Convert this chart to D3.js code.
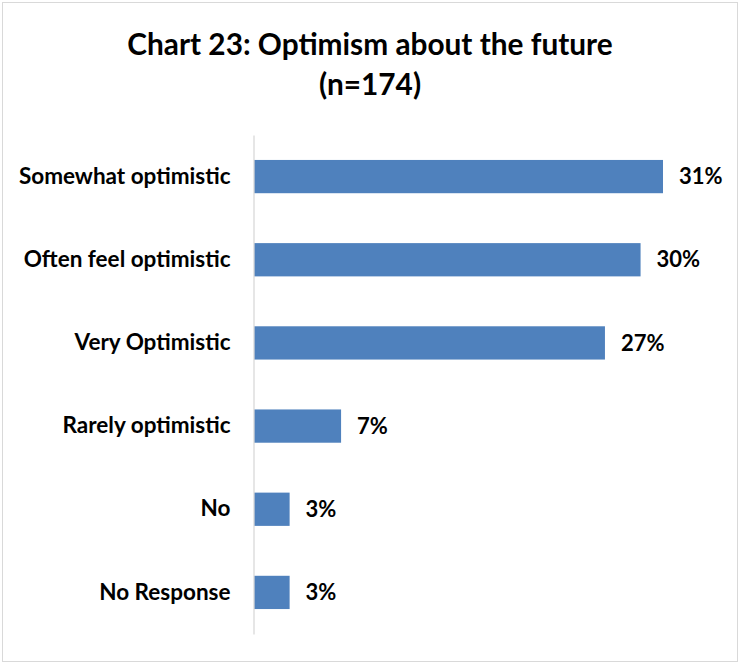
<!DOCTYPE html>
<html>
<head>
<meta charset="utf-8">
<script src="https://cdn.jsdelivr.net/npm/d3@7"></script>
<style>
  body { margin: 0; background: #fff; }
  text { font-family: Lato, "Open Sans", sans-serif; font-weight: bold; fill: #000; }
</style>
</head>
<body>
<div id="chart"></div>
<script>
var categories = ["Somewhat optimistic", "Often feel optimistic", "Very Optimistic",
                  "Rarely optimistic", "No", "No Response"];
var values = [31.0, 29.3, 26.6, 6.6, 2.7, 2.7];
var valueLabels = ["31%", "30%", "27%", "7%", "3%", "3%"];
var titleLines = ["Chart 23: Optimism about the future", "(n=174)"];

var wid = 740,
	heig = 664;

var svg = d3.select("#chart").append("svg")
		.attr("width", wid)
		.attr("height", heig);

// outer frame
svg.append("rect")
	.attr("x", 2.5)
	.attr("y", 2.5)
	.attr("width", 735)
	.attr("height", 659)
	.attr("fill", "#fff")
	.attr("stroke", "#d9d9d9")
	.attr("stroke-width", 1);

// title
svg.selectAll("text.title")
	.data(titleLines)
	.enter().append("text")
	.attr("class", "title")
	.attr("x", 370)
	.attr("y", function(d, i) { return 55 + i * 40; })
	.attr("text-anchor", "middle")
	.style("font-size", "29.8px")
	.text(function(d) { return d; });

var x = d3.scaleLinear()
		.domain([0, 31])
		.range([254, 663]);

var y = d3.scaleBand()
		.domain(categories)
		.range([135, 634])
		.paddingInner(0.6)
		.paddingOuter(0.3);

// bars
svg.selectAll("rect.bar")
	.data(values)
	.enter().append("rect")
	.attr("class", "bar")
	.attr("x", x(0))
	.attr("y", function(d, i) { return y(categories[i]); })
	.attr("width", function(d) { return x(d) - x(0); })
	.attr("height", y.bandwidth())
	.attr("fill", "#4f81bd");

// category axis (line only, no ticks)
var yAxis = svg.append("g")
		.attr("transform", "translate(253.5,0)")
		.call(d3.axisLeft(y).tickSize(0).tickPadding(23));

yAxis.select(".domain")
	.attr("stroke", "#d9d9d9")
	.attr("stroke-width", 1.3);

yAxis.selectAll("text")
	.style("font-size", "22.5px")
	.style("font-family", "Lato, 'Open Sans', sans-serif")
	.style("font-weight", "bold")
	.attr("fill", "#000");

// value labels
svg.selectAll("text.val")
	.data(values)
	.enter().append("text")
	.attr("class", "val")
	.attr("x", function(d) { return x(d) + 16; })
	.attr("y", function(d, i) { return y(categories[i]) + y.bandwidth() / 2; })
	.attr("dy", "0.35em")
	.style("font-size", "22px")
	.text(function(d, i) { return valueLabels[i]; });
</script>
</body>
</html>
